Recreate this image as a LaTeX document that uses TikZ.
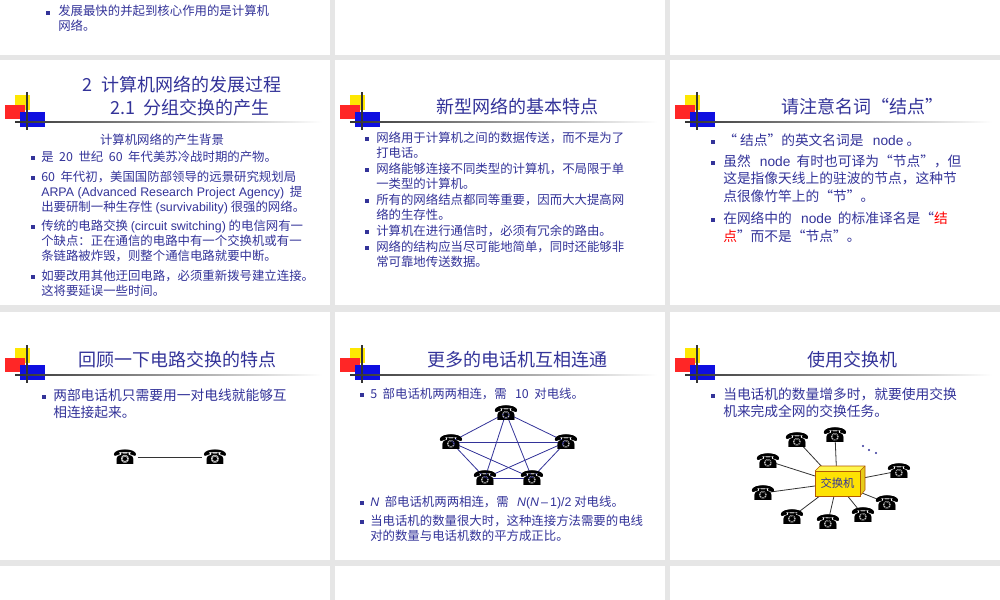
\documentclass[tikz,border=0pt]{standalone}
\usepackage{fontspec}
\setmainfont{Noto Sans CJK SC}
\newfontfamily\symf{DejaVu Sans}
\newfontfamily\latf{Liberation Sans}
\begin{document}
\begin{tikzpicture}[x=0.75pt,y=-0.75pt]
\definecolor{navy}{HTML}{333399}
\definecolor{bgc}{HTML}{E6E6E6}
\tikzset{
 panel/.style={fill=white,draw=none},
 ttl/.style={text=navy,font=\fontsize{13.5}{15}\selectfont,inner sep=0},
 txt/.style={text=navy,font=\fontsize{9.3}{11.2}\selectfont,anchor=north west,inner sep=0,align=left},
 txtb/.style={text=navy,font=\fontsize{10.3}{12.8}\selectfont,anchor=north west,inner sep=0,align=left},
 bul/.style={fill=navy,minimum size=3.5pt,inner sep=0},
 phone/.style={font=\symf\fontsize{15}{15}\selectfont,inner sep=0,text=black},
 wire/.style={draw=navy,line width=0.6pt},
 swire/.style={draw=black!80,line width=0.6pt}
}
\useasboundingbox (0,0) rectangle (1000,600);
\fill[bgc] (0,0) rectangle (1000,600);
% panels
\foreach \x in {0,335,670}{
  \fill[panel] (\x,0) rectangle (\x+330,55);
  \fill[panel] (\x,60) rectangle (\x+330,305);
  \fill[panel] (\x,312) rectangle (\x+330,560);
  \fill[panel] (\x,566) rectangle (\x+330,600);
}
% logos
\newcommand{\logo}[2]{%
 \fill[yellow!90!orange] (#1+15,#2-27) rectangle (#1+30,#2-12);
 \fill[red!85!white] (#1+5,#2-17) rectangle (#1+25,#2-3);
 \fill[blue!70!navy] (#1+20,#2-10) rectangle (#1+45,#2+5);
 \draw[black!80,line width=0.8pt] (#1+27,#2-30) -- (#1+27,#2+8);
 \shade[left color=black!80,right color=white] (#1+15,#2-0.5) rectangle (#1+322,#2+0.7);
}
\logo{0}{122}\logo{335}{122}\logo{670}{122}
\logo{0}{375}\logo{335}{375}\logo{670}{375}
% top panel
\node[bul] (b0) at (48,13) {};
\node[txt] (t0) at (58,5) {发展最快的并起到核心作用的是计算机\\网络。};
% panel 1
\node[ttl] (h1a) at (182,85) {2\ \ 计算机网络的发展过程};
\node[ttl] (h1b) at (190,108) {2.1\ \ 分组交换的产生};
\node[txt,anchor=center] (s1) at (162,140) {计算机网络的产生背景};
\foreach \y in {158,178,227,277}{\node[bul] at (33,\y) {};}
\node[txt] at (41,151) {是\ \ 20\ \ 世纪\ \ 60\ \ 年代美苏冷战时期的产物。};
\node[txt] at (41,171) {60\ \ 年代初，美国国防部领导的远景研究规划局\\{\latf ARPA (Advanced Research Project Agency)}\ \ 提\\出要研制一种生存性 {\latf (survivability)} 很强的网络。};
\node[txt] at (41,220) {传统的电路交换 {\latf (circuit switching)} 的电信网有一\\个缺点：正在通信的电路中有一个交换机或有一\\条链路被炸毁，则整个通信电路就要中断。};
\node[txt] at (41,270) {如要改用其他迂回电路，必须重新拨号建立连接。\\这将要延误一些时间。};
% panel 2
\node[ttl] (h2) at (517,107) {新型网络的基本特点};
\foreach \y in {139,170,201,232,248}{\node[bul] at (367,\y) {};}
\node[txt] at (376,132) {网络用于计算机之间的数据传送，而不是为了\\打电话。};
\node[txt] at (376,163) {网络能够连接不同类型的计算机，不局限于单\\一类型的计算机。};
\node[txt] at (376,194) {所有的网络结点都同等重要，因而大大提高网\\络的生存性。};
\node[txt] at (376,225) {计算机在进行通信时，必须有冗余的路由。};
\node[txt] at (376,241) {网络的结构应当尽可能地简单，同时还能够非\\常可靠地传送数据。};
% panel 3
\node[ttl] (h3) at (862,107) {请注意名词“结点”};
\foreach \y in {142,163,220}{\node[bul] at (713,\y) {};}
\node[txtb] at (723,134) {“ 结点”的英文名词是\ \ \ {\latf node} 。};
\node[txtb] at (723,155) {虽然\ \ \ {\latf node}\ \ 有时也可译为“节点”，但\\这是指像天线上的驻波的节点，这种节\\点很像竹竿上的“节”。};
\node[txtb] at (723,212) {在网络中的\ \ \ {\latf node}\ \ 的标准译名是“\textcolor{red}{结}\\\textcolor{red}{点}”而不是“节点”。};
% panel 4
\node[ttl] (h4) at (177,360) {回顾一下电路交换的特点};
\node[bul] at (44,397) {};
\node[txtb] at (53,389) {两部电话机只需要用一对电线就能够互\\相连接起来。};
\node[phone] (pa) at (125,457) {☎};
\node[phone] (pb) at (215,457) {☎};
\draw[black!80,line width=0.6pt] (pa) -- (pb);
% panel 5
\node[ttl] (h5) at (517,360) {更多的电话机互相连通};
\node[bul] at (362,395) {};
\node[txt] at (370,388) {5\ \ 部电话机两两相连，需\ \ \ 10\ \ 对电线。};
\node[phone] (q1) at (506,413) {☎};
\node[phone] (q2) at (451,442) {☎};
\node[phone] (q3) at (566,442) {☎};
\node[phone] (q4) at (485,478) {☎};
\node[phone] (q5) at (532,478) {☎};
\foreach \a/\b in {q1/q2,q1/q3,q1/q4,q1/q5,q2/q3,q2/q4,q2/q5,q3/q4,q3/q5,q4/q5}{\draw[wire] (\a.center) -- (\b.center);}
\foreach \n in {q1,q2,q3,q4,q5}{\node[phone] at (\n) {☎};}
\foreach \y in {503,522}{\node[bul] at (362,\y) {};}
\node[txt] at (370,496) {{\latf\itshape N}\ \ 部电话机两两相连，需\ \ \ {\latf{\itshape N}({\itshape N}\,–\,1)/2} 对电线。};
\node[txt] at (370,515) {当电话机的数量很大时，这种连接方法需要的电线\\对的数量与电话机数的平方成正比。};
% panel 6
\node[ttl] (h6) at (852,360) {使用交换机};
\node[bul] at (713,396) {};
\node[txtb] at (723,388) {当电话机的数量增多时，就要使用交换\\机来完成全网的交换任务。};
\coordinate (sw) at (837,483);
\foreach \p [count=\i] in {(797,440),(835,435),(768,461),(899,471),(763,493),(887,503),(792,517),(863,515),(828,522)}{
  \node[phone] (r\i) at \p {☎};
  \draw[swire] (sw) -- (r\i.center);
  \node[phone] at (r\i) {☎};
}
\fill[yellow!80!orange!90!black] (860,471) -- (865,466) -- (865,490) -- (860,496) -- cycle;
\fill[yellow!70!white] (815,471) -- (820,466) -- (865,466) -- (860,471) -- cycle;
\draw[orange!70!black,line width=0.4pt] (815,471) -- (820,466) -- (865,466) -- (865,490) -- (860,496);
\node[draw=orange!70!black,fill=yellow!85!orange,line width=0.4pt,minimum width=45pt*0.75,minimum height=25pt*0.75,inner sep=0,font=\fontsize{8.5}{9}\selectfont,text=navy] (box) at (837.5,483.5) {交换机};
\draw[orange!70!black,line width=0.4pt] (860,471) -- (865,466);
\foreach \p in {(863,446),(869,450),(876,453)}{\fill[navy] \p circle (1.1);}
\end{tikzpicture}
\end{document}
